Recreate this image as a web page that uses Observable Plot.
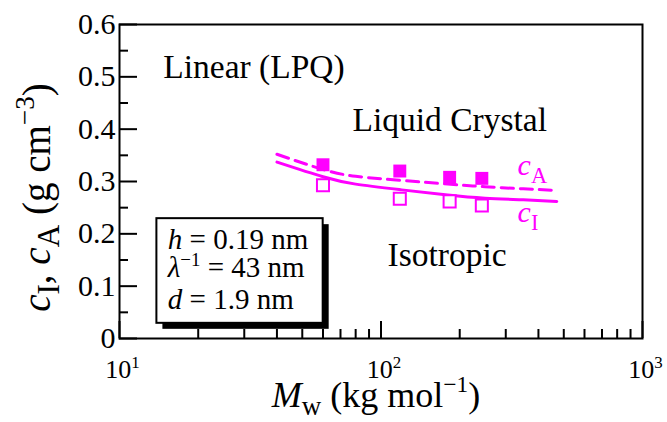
<!DOCTYPE html>
<html><head><meta charset="utf-8">
<script src="https://cdn.jsdelivr.net/npm/d3@7"></script>
<script src="https://cdn.jsdelivr.net/npm/@observablehq/plot@0.6"></script>
<style>body{margin:0;background:#fff}</style>
</head><body><div id="chart"></div>
<script>
// ---- data ----
const M_exp = [60, 118, 183, 243];                 // kg/mol
const cA_exp = [0.332, 0.320, 0.308, 0.306];       // filled squares
const cI_exp = [0.293, 0.267, 0.262, 0.254];       // open squares
const M_theory = [40, 60, 80, 120, 180, 250, 350, 470];
const cA_theory = [0.352, 0.323, 0.310, 0.302, 0.295, 0.290, 0.286, 0.283];
const cI_theory = [0.337, 0.309, 0.295, 0.284, 0.274, 0.268, 0.265, 0.262];
const xMajorTicks = [10, 100, 1000];
const xMinorTicks = [20, 30, 40, 50, 60, 70, 80, 90, 200, 300, 400, 500, 600, 700, 800, 900];
const yMajorTicks = [0, 0.1, 0.2, 0.3, 0.4, 0.5, 0.6];
const yMinorTicks = [0.05, 0.15, 0.25, 0.35, 0.45, 0.55];
const regionLabels = ["Linear (LPQ)", "Liquid Crystal", "Isotropic"];
const regionM = [14.7, 77.8, 106];
const regionC = [0.497, 0.397, 0.138];
const curveLabels = ["*c*_{A}", "*c*_{I}"];
const curveLabelM = [333, 333];
const curveLabelC = [0.3115, 0.2217];
const paramLines = ["*h* = 0.19 nm", "*λ*^{−1} = 43 nm", "*d* = 1.9 nm"];
const paramM = [15.3, 15.3, 15.3];
const paramC = [0.1714, 0.1171, 0.0568];
const boxM = [13.9, 60.1];
const boxC = [0.029, 0.229];
const xTitle = "*M*_{w} (kg mol^{−1})";
const yTitle = "*c*_{I}, *c*_{A} (g cm^{−3})";

// ---- tables built from the arrays ----
const expA = M_exp.map((m, i) => ({M: m, c: cA_exp[i]}));
const expI = M_exp.map((m, i) => ({M: m, c: cI_exp[i]}));
const thA = M_theory.map((m, i) => ({M: m, c: cA_theory[i]}));
const thI = M_theory.map((m, i) => ({M: m, c: cI_theory[i]}));
const regions = regionLabels.map((t, i) => ({t, M: regionM[i], c: regionC[i]}));
const curveLab = curveLabels.map((t, i) => ({t, M: curveLabelM[i], c: curveLabelC[i]}));
const params = paramLines.map((t, i) => ({t, M: paramM[i], c: paramC[i]}));
const box = [{x1: boxM[0], x2: boxM[1], y1: boxC[0], y2: boxC[1]}];

const W = 667, H = 422, mL = 119, mR = 25, mT = 24, mB = 84;
const iW = W - mL - mR, iH = H - mT - mB;
const MAG = "#ff00ff";
const FONT = "'Liberation Serif', 'Times New Roman', serif";

const svg = Plot.plot({
  width: W, height: H,
  marginLeft: mL, marginRight: mR, marginTop: mT, marginBottom: mB,
  style: {fontFamily: FONT, background: "white", color: "black"},
  x: {type: "log", domain: [10, 1000]},
  y: {domain: [0, 0.6]},
  marks: [
    // box with shadow
    Plot.rect(box, {x1: "x1", x2: "x2", y1: "y1", y2: "y2", fill: "black", dx: 6, dy: 6}),
    Plot.rect(box, {x1: "x1", x2: "x2", y1: "y1", y2: "y2", fill: "white", stroke: "black", strokeWidth: 2}),
    Plot.text(params, {x: "M", y: "c", text: "t", textAnchor: "start", lineAnchor: "bottom", fontSize: 29, fill: "black"}),
    // inward ticks
    Plot.tickY(yMajorTicks, {y: d => d, insetRight: iW - 18, strokeWidth: 2}),
    Plot.tickY(yMinorTicks, {y: d => d, insetRight: iW - 9, strokeWidth: 2}),
    Plot.tickX(xMajorTicks, {x: d => d, insetTop: iH - 17, strokeWidth: 2}),
    Plot.tickX(xMinorTicks, {x: d => d, insetTop: iH - 9, strokeWidth: 2}),
    // tick labels
    Plot.axisY(yMajorTicks, {tickSize: 0, tickPadding: 4, fontSize: 30, label: null,
      tickFormat: d => d === 0 ? "0" : d.toFixed(1)}),
    Plot.axisX(xMajorTicks, {tickSize: 0, tickPadding: 21, fontSize: 26, dx: 3, label: null,
      tickFormat: d => `10^{${Math.round(Math.log10(d))}}`}),
    // theory curves
    Plot.line(thA, {x: "M", y: "c", stroke: MAG, strokeWidth: 3, strokeDasharray: "12,7", curve: "natural"}),
    Plot.line(thI, {x: "M", y: "c", stroke: MAG, strokeWidth: 3, curve: "natural"}),
    // experimental points
    Plot.dot(expA, {x: "M", y: "c", symbol: "square", r: 7.3, fill: MAG, stroke: "none"}),
    Plot.dot(expI, {x: "M", y: "c", symbol: "square", r: 6.8, fill: "white", stroke: MAG, strokeWidth: 2}),
    // labels
    Plot.text(regions, {x: "M", y: "c", text: "t", textAnchor: "start", lineAnchor: "bottom", fontSize: 33.5, fill: "black"}),
    Plot.text(curveLab, {x: "M", y: "c", text: "t", textAnchor: "start", lineAnchor: "bottom", fontSize: 30, fill: MAG}),
    Plot.text([xTitle], {frameAnchor: "bottom", textAnchor: "middle", dy: 68, dx: -5, lineAnchor: "bottom", fontSize: 36, fill: "black"}),
    Plot.text([yTitle], {frameAnchor: "left", textAnchor: "middle", rotate: -90, dx: -70, dy: 16, lineAnchor: "bottom", fontSize: 39, fill: "black"}),
    Plot.frame({stroke: "black", strokeWidth: 2})
  ]
});
document.getElementById("chart").appendChild(svg);

// ---- rich text: *italic*, ^{sup}, _{sub} ----
function parseRich(s) {
  const re = /\*([^*]+)\*|\^\{([^}]*)\}|_\{([^}]*)\}|([^*^_]+)/g;
  const out = []; let m;
  while ((m = re.exec(s))) {
    if (m[1] != null) out.push({t: m[1], it: true, sh: 0});
    else if (m[2] != null) out.push({t: m[2], it: false, sh: 1});
    else if (m[3] != null) out.push({t: m[3], it: false, sh: -1});
    else out.push({t: m[4], it: false, sh: 0});
  }
  return out;
}
d3.select(svg).selectAll("text").each(function() {
  const s = this.textContent;
  if (!/[*]|\^\{|_\{/.test(s)) return;
  const fs = parseFloat(getComputedStyle(this).fontSize) || 27;
  const isY = s === yTitle;
  const subK = isY ? 0.8 : 0.75, supK = isY ? 0.7 : 0.65;
  const el = d3.select(this);
  el.text(null);
  let cur = 0;
  for (const seg of parseRich(s)) {
    const target = seg.sh === 1 ? -0.4 * fs : seg.sh === -1 ? 0.24 * fs : 0;
    const ts = el.append("tspan").text(seg.t);
    if (target !== cur) ts.attr("dy", (target - cur).toFixed(2));
    cur = target;
    if (seg.sh !== 0) ts.attr("font-size", (seg.sh === 1 ? supK : subK) * fs);
    if (seg.it) ts.attr("font-style", "italic");
  }
});
</script>
</body></html>
